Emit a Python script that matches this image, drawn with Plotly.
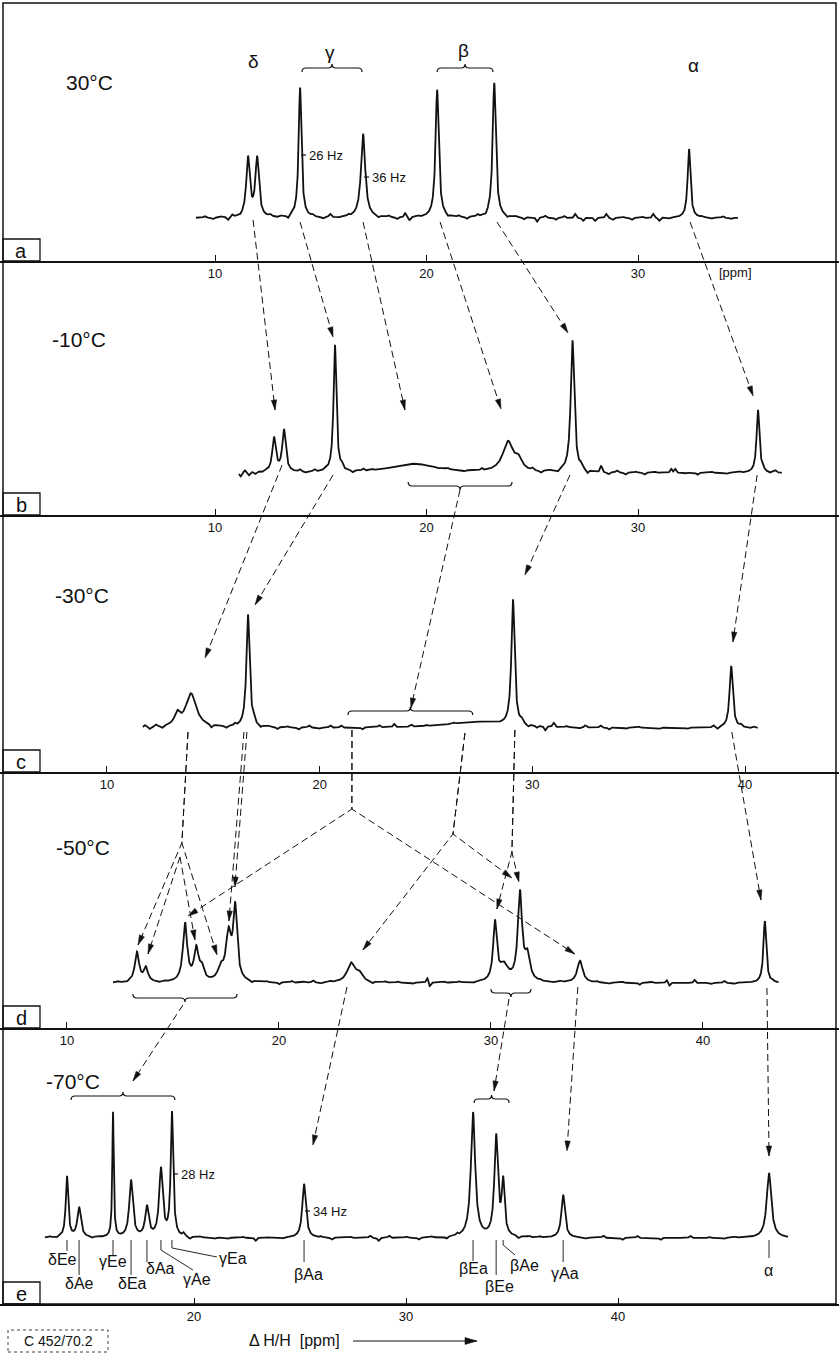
import math
import numpy as np
import plotly.graph_objects as go

W, H = 839, 1354
INK = "#111111"
FONT = "Liberation Sans"

# ---------------- panel set-up ----------------
PANEL_IDS = ["a", "b", "c", "d", "e"]
TEMPERATURES = ["30°C", "-10°C", "-30°C", "-50°C", "-70°C"]
PPM_LEFT = [-0.166, -0.166, 4.97, 6.84, 10.85]      # ppm at left page edge
PPM_RIGHT = [39.50, 39.50, 44.42, 46.42, 50.42]     # ppm at right page edge
TICK_VALUES = [[10, 20, 30], [10, 20, 30], [10, 20, 30, 40], [10, 20, 30, 40], [20, 30, 40]]
INT_LOW = [-43, -42, -44, -45, -66]                  # intensity (arb. units, baseline 0)
INT_HIGH = [215, 212, 213, 211, 210]
PANEL_TOP_PX = [3, 261, 515, 772, 1028]
PANEL_BOTTOM_PX = [261, 515, 772, 1028, 1304]

# ---------------- spectra ----------------
SWEEP_START = [9.10, 11.13, 11.69, 12.17, 12.97]
SWEEP_END = [34.73, 36.81, 40.61, 43.58, 48.02]

A_PEAK_PPM = [11.56, 11.99, 14.02, 17.00, 20.50, 23.20, 32.41]
A_PEAK_HEIGHT = [59, 59, 130, 84, 128, 135, 69]
A_PEAK_HWHM = [0.10, 0.10, 0.08, 0.12, 0.09, 0.09, 0.08]

B_PEAK_PPM = [12.79, 13.26, 15.67, 19.40, 23.85, 24.35, 26.90, 35.67]
B_PEAK_HEIGHT = [34, 42, 127, 9, 30, 10, 132, 63]
B_PEAK_HWHM = [0.10, 0.10, 0.08, 1.30, 0.30, 0.20, 0.10, 0.08]

C_PEAK_PPM = [13.30, 13.95, 16.63, 27.30, 29.09, 39.35]
C_PEAK_HEIGHT = [12, 34, 113, 6, 126, 62]
C_PEAK_HWHM = [0.15, 0.30, 0.09, 1.60, 0.09, 0.09]

D_PEAK_PPM = [13.30, 13.72, 15.57, 16.10, 16.36, 17.25, 17.62, 17.93,
              23.40, 23.78, 30.19, 30.60, 31.37, 31.72, 34.20, 42.92]
D_PEAK_HEIGHT = [30, 14, 58, 32, 12, 12, 46, 72,
                 19, 8, 58, 16, 88, 24, 22, 62]
D_PEAK_HWHM = [0.12, 0.12, 0.12, 0.13, 0.12, 0.15, 0.15, 0.11,
               0.22, 0.18, 0.10, 0.25, 0.12, 0.14, 0.15, 0.08]

E_PEAK_PPM = [14.01, 14.58, 16.18, 17.03, 17.78, 18.44, 18.96, 25.19,
              33.16, 34.25, 34.58, 37.41, 47.12]
E_PEAK_HEIGHT = [61, 30, 125, 57, 30, 68, 124, 54, 125, 100, 53, 43, 65]
E_PEAK_HWHM = [0.07, 0.10, 0.04, 0.10, 0.10, 0.10, 0.07, 0.10,
               0.12, 0.10, 0.08, 0.10, 0.13]

# baseline wiggles (ppm, amplitude)
A_NOISE_PPM = [9.5, 9.9, 10.3, 10.61, 10.8, 11.2, 12.6, 12.9, 13.1, 13.45, 14.6, 15.1, 15.44, 15.8,
               16.3, 17.7, 18.2, 18.6, 18.98, 19.2, 19.6, 21.0, 21.5, 21.9, 22.4, 22.8, 23.8, 24.2,
               24.6, 25.22, 25.6, 26.1, 26.5, 27.02, 27.4, 27.97, 28.49, 28.8, 29.3, 29.7, 30.2,
               30.71, 31.0, 31.5, 33.0, 33.5, 34.0, 34.4]
A_NOISE_AMP = [1.5, -1.5, 1, -3, 2, -1, 1.5, -1, 1, -3, 1.5, -1.5, 3, -1,
               1.5, -2, 1.5, -2, 4, -3, 1, -2, 1.5, -2, 2, -2, -2, 1,
               -2, -4, 2, -2, 2, 4, -3, -3, 4, -2, 1, -2, 1,
               4, -3, -1, 1, -1, 1.5, -1]

B_NOISE_PPM = [11.2, 11.4, 11.6, 11.9, 12.2, 14.0, 14.3, 14.7, 15.2, 16.0, 16.5, 17.0, 17.4,
               20.5, 21.0, 21.8, 22.6, 25.0, 25.4, 25.8, 26.2, 27.3, 27.6, 28.25, 28.6, 29.0,
               29.4, 29.9, 30.3, 30.8, 31.56, 31.75, 32.2, 32.8, 33.5, 34.2, 34.8, 35.9, 36.2, 36.5]
B_NOISE_AMP = [-4, 2, -3, -2, -1, 2, -1, 2, 1, 4, -2, 2, 1,
               -1, 1, -1, 2, 2, -2, 1, -2, 3, -3, 6, -2, 2,
               -2, 1, -2, 1, 4, 4, -1, -2, 1, -1, 1, 3, -1, 2]

C_NOISE_PPM = [11.8, 12.0, 12.3, 12.6, 14.9, 15.2, 15.6, 16.0, 16.9, 17.2, 17.6, 18.0, 18.5, 19.0,
               19.5, 20.0, 20.5, 21.0, 22.0, 22.8, 23.5, 24.3, 25.0, 26.3, 29.5, 29.8, 30.2, 30.6,
               31.0, 31.6, 32.2, 32.5, 33.2, 33.6, 34.4, 35.0, 36.0, 37.3, 38.5, 38.7, 39.8, 40.2, 40.4]
C_NOISE_AMP = [2, -2, 2, -2, -3, 1, -2, 2, 4, -2, 1, -2, 1, -2,
               2, -1, 2, 2, -2, 2, 3, 2, 1, 1, 3, -2, -2, -4,
               4, 1, -1, 2, 2, -2, -1, 1, -1, -1, 2, -2, 2, -1, 1]

D_NOISE_PPM = [12.4, 12.8, 14.3, 14.6, 18.7, 19.4, 20.0, 20.6, 21.2, 21.6, 22.0, 22.4, 24.4, 25.0,
               25.6, 26.3, 27.0, 27.1, 27.8, 28.5, 29.2, 32.3, 32.9, 33.3, 35.0, 35.6, 36.2, 37.0,
               37.6, 38.3, 38.4, 39.6, 40.4, 41.0, 41.5, 43.3]
D_NOISE_AMP = [1, -1, -1, 1, -2, 1, -2, 1.5, 1, 2, -1, 1, -2, 1,
               1, -1, 5, -4, 1, 1, -1, 1, -1, 1, 1, -1, 1, -2,
               1, 3, -3, 3, -1, 2, -1, 1]

E_NOISE_PPM = [13.2, 13.5, 15.2, 15.5, 19.5, 19.8, 20.3, 21.0, 21.6, 22.3, 22.9, 23.5, 24.2, 26.0,
               26.5, 27.4, 28.3, 28.7, 29.2, 30.0, 30.6, 31.2, 31.9, 32.4, 35.3, 35.8, 36.3, 38.5,
               39.3, 40.2, 40.9, 42.0, 43.4, 44.3, 45.0, 45.5]
E_NOISE_AMP = [1, -1, -1, 1, 3, -2, 1, -1, -1, 1, -3, 1, -1, 1,
               -2, 1, 2, -3, 2, 1, -2, 1, -2, 2, -2, 1, 1, -1,
               2, -2, 2, -2, 2, 1, -1, 1]

PEAK_PPM = [A_PEAK_PPM, B_PEAK_PPM, C_PEAK_PPM, D_PEAK_PPM, E_PEAK_PPM]
PEAK_HEIGHT = [A_PEAK_HEIGHT, B_PEAK_HEIGHT, C_PEAK_HEIGHT, D_PEAK_HEIGHT, E_PEAK_HEIGHT]
PEAK_HWHM = [A_PEAK_HWHM, B_PEAK_HWHM, C_PEAK_HWHM, D_PEAK_HWHM, E_PEAK_HWHM]
NOISE_PPM = [A_NOISE_PPM, B_NOISE_PPM, C_NOISE_PPM, D_NOISE_PPM, E_NOISE_PPM]
NOISE_AMP = [A_NOISE_AMP, B_NOISE_AMP, C_NOISE_AMP, D_NOISE_AMP, E_NOISE_AMP]

# ---------------- annotations (data-referenced) ----------------
# correlation arrows: polyline of (panel, ppm, intensity); arrowhead at last point
ARROWS = [
    [("a", 11.80, -2), ("b", 12.84, 63)],
    [("a", 14.02, -4), ("b", 15.58, 136)],
    [("a", 17.00, -4), ("b", 18.98, 63)],
    [("a", 20.64, -4), ("b", 23.52, 64)],
    [("a", 23.33, -4), ("b", 26.69, 140)],
    [("a", 32.46, -4), ("b", 35.44, 77)],
    [("b", 13.17, 8), ("c", 14.61, 70)],
    [("b", 15.58, -2), ("c", 16.96, 123)],
    [("b", 21.58, -17), ("c", 24.29, 20)],
    [("b", 26.78, -2), ("c", 29.65, 153)],
    [("b", 35.63, -2), ("c", 39.43, 86)],
    [("c", 13.81, -4), ("d", 15.42, 140), ("d", 13.35, 38)],
    [("c", 13.81, -4), ("d", 15.42, 140), ("d", 17.08, 28)],
    [("d", 15.33, 126), ("d", 13.82, 29)],
    [("d", 15.33, 126), ("d", 16.04, 43)],
    [("c", 16.58, -4), ("d", 17.92, 96)],
    [("c", 16.44, -4), ("d", 17.64, 62)],
    [("c", 21.52, -2), ("d", 23.44, 174), ("d", 15.71, 67)],
    [("c", 21.52, -2), ("d", 23.44, 174), ("d", 33.96, 29)],
    [("c", 26.83, -5), ("d", 28.21, 149), ("d", 23.96, 33)],
    [("c", 26.83, -5), ("d", 28.21, 149), ("d", 30.99, 105)],
    [("c", 29.18, -2), ("d", 30.99, 131), ("d", 31.32, 101)],
    [("c", 29.18, -2), ("d", 30.99, 131), ("d", 30.28, 74)],
    [("c", 39.38, -4), ("d", 42.74, 83)],
    [("d", 15.47, -22), ("e", 17.12, 157)],
    [("d", 23.21, -4), ("e", 25.61, 93)],
    [("d", 30.85, -16), ("e", 34.15, 147)],
    [("d", 34.10, -4), ("e", 37.59, 87)],
    [("d", 43.02, -5), ("e", 47.12, 82)],
]

BRACKET_PANEL = ["a", "a", "b", "c", "d", "d", "e", "e"]
BRACKET_FROM = [14.11, 20.50, 19.13, 21.33, 13.11, 30.00, 14.20, 33.21]
BRACKET_TO = [16.95, 23.14, 24.04, 27.20, 18.02, 31.89, 19.10, 34.86]
BRACKET_LEVEL = [150, 150, -13, 17, -15, -10, 142, 139]
BRACKET_OPENS = ["down", "down", "up", "down", "up", "up", "down", "down"]

GROUP_LABELS = ["δ", "γ", "β", "α"]
GROUP_PPM = [11.80, 15.44, 21.77, 32.60]
GROUP_LEVEL = [156, 166, 168, 153]

HZ_PANEL = ["a", "a", "e", "e"]
HZ_TEXT = ["26 Hz", "36 Hz", "28 Hz", "34 Hz"]
HZ_PPM = [14.02, 17.00, 18.96, 25.19]
HZ_LEVEL = [63, 41, 64, 27]

E_LABELS = ["δEe", "δAe", "γEe", "δEa", "δAa", "γAe", "γEa", "βAa", "βEa", "βEe", "βAe", "γAa", "α"]
E_LABEL_PEAK = [14.01, 14.58, 16.18, 17.03, 17.78, 18.44, 18.96, 25.19, 33.16, 34.25, 34.58, 37.41, 47.12]
E_LEADER_KNEE = [-13, -37, -17, -37, -24, -12, -10, -24, -23, -37, -7, -24, -20]
E_LEADER_END_PPM = [14.01, 14.58, 16.18, 17.03, 17.78, 19.95, 21.08, 25.19, 33.16, 34.25, 35.14, 37.41, 47.12]
E_LEADER_END_LEVEL = [-13, -37, -17, -37, -24, -32, -19, -24, -23, -37, -17, -24, -20]
E_TEXT_PPM = [13.82, 14.58, 16.18, 17.12, 18.44, 20.14, 21.82, 25.38, 33.16, 34.43, 35.57, 37.50, 47.08]
E_TEXT_LEVEL = [-21, -45, -23, -45, -30, -41, -20, -36, -30, -48, -27, -35, -32]


# ---------------- helpers ----------------
def to_px(p, ppm, level):
    k = PANEL_IDS.index(p)
    X = (ppm - PPM_LEFT[k]) / (PPM_RIGHT[k] - PPM_LEFT[k]) * W
    top, bot = PANEL_TOP_PX[k], PANEL_BOTTOM_PX[k]
    Y = bot - (level - INT_LOW[k]) / (INT_HIGH[k] - INT_LOW[k]) * (bot - top)
    return X, Y


def pp(X, Y):
    return f"{X / W:.5f},{1 - Y / H:.5f}"


shapes = []
annotations = []


def add_text(X, Y, text, size=15, xanchor="center"):
    annotations.append(dict(x=X / W, y=1 - Y / H, xref="paper", yref="paper", text=text,
                            showarrow=False, xanchor=xanchor, yanchor="middle",
                            font=dict(family=FONT, size=size, color=INK)))


def add_poly(pts, width=1.0, dash=None):
    path = "M " + " L ".join(pp(X, Y) for X, Y in pts)
    line = dict(color=INK, width=width)
    if dash:
        line["dash"] = dash
    shapes.append(dict(type="path", path=path, xref="paper", yref="paper", line=line))


def add_head(x1, y1, x2, y2, length=10, half=2.7):
    dx, dy = x2 - x1, y2 - y1
    n = math.hypot(dx, dy)
    ux, uy = dx / n, dy / n
    bx, by = x2 - ux * length, y2 - uy * length
    lx, ly = bx - uy * half, by + ux * half
    rx, ry = bx + uy * half, by - ux * half
    shapes.append(dict(type="path", xref="paper", yref="paper",
                       path=f"M {pp(x2, y2)} L {pp(lx, ly)} L {pp(rx, ry)} Z",
                       fillcolor=INK, line=dict(color=INK, width=0.5)))


fig = go.Figure()

# ---------------- spectra + axes ----------------
layout_axes = {}
for k, pid in enumerate(PANEL_IDS):
    x = np.arange(SWEEP_START[k], SWEEP_END[k], 0.01)
    y = np.zeros_like(x)
    for c, h, w in zip(PEAK_PPM[k], PEAK_HEIGHT[k], PEAK_HWHM[k]):
        y += h * w ** 2 / ((x - c) ** 2 + w ** 2)
    for c, a in zip(NOISE_PPM[k], NOISE_AMP[k]):
        y += a * np.exp(-0.5 * ((x - c) / 0.05) ** 2)
    n = k + 1
    fig.add_trace(go.Scatter(x=x, y=y, mode="lines", xaxis=f"x{n}", yaxis=f"y{n}",
                             line=dict(color=INK, width=1.8), hoverinfo="skip", showlegend=False))
    top, bot = PANEL_TOP_PX[k], PANEL_BOTTOM_PX[k]
    layout_axes[f"xaxis{n}"] = dict(
        domain=[0, 1], range=[PPM_LEFT[k], PPM_RIGHT[k]], anchor=f"y{n}",
        tickvals=TICK_VALUES[k], ticktext=[str(v) for v in TICK_VALUES[k]],
        showline=True, linecolor=INK, linewidth=1.5, ticks="inside", ticklen=6,
        tickwidth=1.2, tickcolor=INK, showgrid=False, zeroline=False,
        tickfont=dict(family=FONT, size=13, color=INK), fixedrange=True)
    layout_axes[f"yaxis{n}"] = dict(
        domain=[1 - bot / H, 1 - top / H], range=[INT_LOW[k], INT_HIGH[k]],
        anchor=f"x{n}", visible=False, fixedrange=True)

TEMP_X_PX = [89, 79, 82, 83, 73]
TEMP_Y_PX = [83, 339, 596, 848, 1081]
for k, t in enumerate(TEMPERATURES):
    add_text(TEMP_X_PX[k], TEMP_Y_PX[k], t, size=21)
    bot = PANEL_BOTTOM_PX[k]
    shapes.append(dict(type="rect", xref="paper", yref="paper", x0=3 / W, x1=40 / W,
                       y0=1 - bot / H, y1=1 - (bot - 22) / H, line=dict(color=INK, width=1.3)))
    add_text(21, bot - 10, PANEL_IDS[k], size=20)

# outer frame
shapes.append(dict(type="rect", xref="paper", yref="paper", x0=3 / W, x1=836 / W,
                   y0=1 - 1304 / H, y1=1 - 3 / H, line=dict(color=INK, width=1.5)))

# [ppm] label of panel a
add_text(*to_px("a", 34.59, -54), "[ppm]", size=13)

# group labels
for t, p, lv in zip(GROUP_LABELS, GROUP_PPM, GROUP_LEVEL):
    add_text(*to_px("a", p, lv), t, size=19)

# brackets
for p, a, b, lv, op in zip(BRACKET_PANEL, BRACKET_FROM, BRACKET_TO, BRACKET_LEVEL, BRACKET_OPENS):
    xl, y = to_px(p, a, lv)
    xr, _ = to_px(p, b, lv)
    xm = (xl + xr) / 2
    s = 1 if op == "down" else -1
    path = (f"M {pp(xl, y + 4 * s)} Q {pp(xl, y)} {pp(xl + 4, y)} L {pp(xm - 4, y)} "
            f"Q {pp(xm, y)} {pp(xm, y - 4 * s)} Q {pp(xm, y)} {pp(xm + 4, y)} "
            f"L {pp(xr - 4, y)} Q {pp(xr, y)} {pp(xr, y + 4 * s)}")
    shapes.append(dict(type="path", path=path, xref="paper", yref="paper",
                       line=dict(color=INK, width=1.2)))

# dashed correlation arrows
for arrow in ARROWS:
    pts = [to_px(*pt) for pt in arrow]
    add_poly(pts, width=1.0, dash="7px,4px")
    (x1, y1), (x2, y2) = pts[-2], pts[-1]
    add_head(x1, y1, x2, y2)

# line-width markers
for p, t, c, lv in zip(HZ_PANEL, HZ_TEXT, HZ_PPM, HZ_LEVEL):
    X0, Y0 = to_px(p, c, lv)
    add_poly([(X0 + 1, Y0), (X0 + 6, Y0)], width=1.2)
    add_text(X0 + 7, Y0, t, size=13, xanchor="left")

# assignment labels in panel e
for i, t in enumerate(E_LABELS):
    pk = E_LABEL_PEAK[i]
    pts = [to_px("e", pk, -2), to_px("e", pk, E_LEADER_KNEE[i])]
    if E_LEADER_END_PPM[i] != pk:
        pts.append(to_px("e", E_LEADER_END_PPM[i], E_LEADER_END_LEVEL[i]))
    add_poly(pts, width=0.9)
    add_text(*to_px("e", E_TEXT_PPM[i], E_TEXT_LEVEL[i]), t, size=16)

# bottom captions
shapes.append(dict(type="rect", xref="paper", yref="paper", x0=8 / W, x1=108 / W,
                   y0=1 - 1352 / H, y1=1 - 1330 / H, line=dict(color=INK, width=0.8, dash="dot")))
add_text(58, 1341, "C 452/70.2", size=14)
add_text(294, 1340, "Δ H/H  [ppm]", size=16)
add_poly([(353, 1341), (477, 1341)], width=1.2)
add_head(353, 1341, 477, 1341, length=12, half=3.5)

fig.update_layout(
    width=W, height=H, autosize=False,
    margin=dict(l=0, r=0, t=0, b=0),
    paper_bgcolor="white", plot_bgcolor="white",
    showlegend=False, shapes=shapes, annotations=annotations,
    **layout_axes,
)

fig.write_html("out.html", config={"displayModeBar": False},
               post_script="document.body.style.margin='0';document.body.style.overflow='hidden';")
